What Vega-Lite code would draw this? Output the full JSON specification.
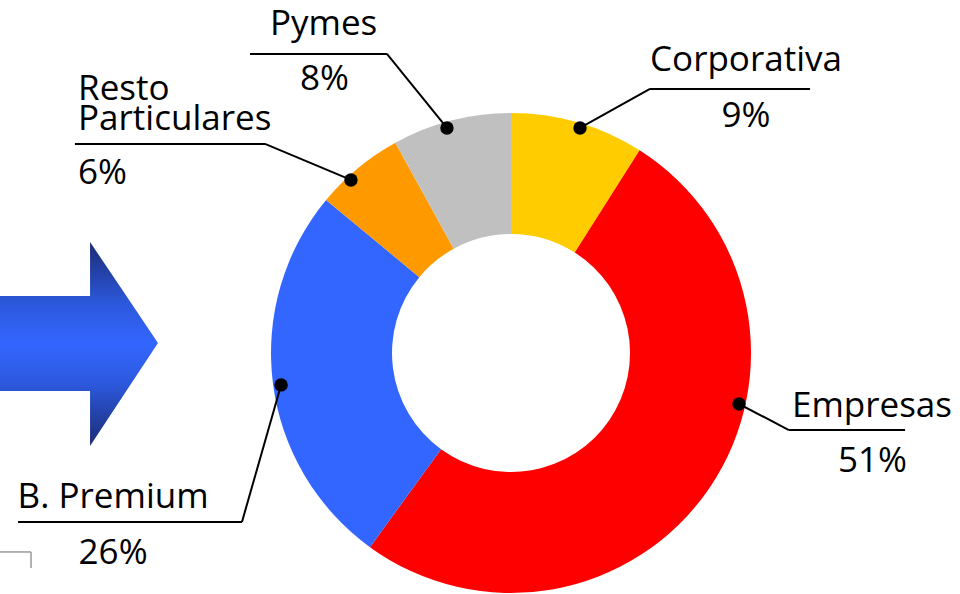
{
  "$schema": "https://vega.github.io/schema/vega-lite/v6.json",
  "width": 960,
  "height": 594,
  "autosize": {"type": "none"},
  "padding": 0,
  "background": "white",
  "config": {"view": {"stroke": null}, "font": "Open Sans"},
  "datasets": {
    "segmentos": [
      {"segmento": "Corporativa", "pct": 9, "orden": 1},
      {"segmento": "Empresas", "pct": 51, "orden": 2},
      {"segmento": "B. Premium", "pct": 26, "orden": 3},
      {"segmento": "Resto Particulares", "pct": 6, "orden": 4},
      {"segmento": "Pymes", "pct": 8, "orden": 5}
    ],
    "guias": [
      {"segmento": "Corporativa", "u1": 28.75, "v1": 93.75, "u2": 57.9, "v2": 110, "u3": 124.6},
      {"segmento": "Empresas", "u1": 95, "v1": -21.25, "u2": 115.8, "v2": -32.1, "u3": 164.2},
      {"segmento": "B. Premium", "u1": -95.8, "v1": -13.3, "u2": -112.1, "v2": -70.4, "u3": -205.4},
      {"segmento": "Resto Particulares", "u1": -66.7, "v1": 72.1, "u2": -102.5, "v2": 87.1, "u3": -181.7},
      {"segmento": "Pymes", "u1": -26.7, "v1": 93.75, "u2": -51.7, "v2": 124.6, "u3": -108.75}
    ],
    "textos": [
      {"segmento": "Corporativa", "texto": "Corporativa", "u": 97.9, "v": 117.5},
      {"segmento": "Corporativa", "texto": "9%", "u": 97.9, "v": 94.2},
      {"segmento": "Empresas", "texto": "Empresas", "u": 150.4, "v": -26.7},
      {"segmento": "Empresas", "texto": "51%", "u": 150.6, "v": -49.6},
      {"segmento": "B. Premium", "texto": "B. Premium", "u": -165.8, "v": -64.6},
      {"segmento": "B. Premium", "texto": "26%", "u": -165.8, "v": -87.9},
      {"segmento": "Resto Particulares", "texto": "Resto", "u": -180.4, "v": 105.4},
      {"segmento": "Resto Particulares", "texto": "Particulares", "u": -180.4, "v": 92.9},
      {"segmento": "Resto Particulares", "texto": "6%", "u": -180.4, "v": 70.4},
      {"segmento": "Pymes", "texto": "Pymes", "u": -78.1, "v": 132.5},
      {"segmento": "Pymes", "texto": "8%", "u": -77.7, "v": 109.6}
    ],
    "flecha": [
      {"v": 46.25, "u1": -175.4, "u2": -175.4},
      {"v": 23.76, "u1": -175.4, "u2": -160.25},
      {"v": 23.74, "u1": -212.92, "u2": -160.25},
      {"v": 4.17, "u1": -212.92, "u2": -147.1},
      {"v": -15.82, "u1": -212.92, "u2": -160.3},
      {"v": -15.84, "u1": -175.4, "u2": -160.3},
      {"v": -38.75, "u1": -175.4, "u2": -175.4}
    ],
    "esquina": [
      {"u1": -212.92, "v1": -82.9, "u2": -200, "v2": -82.9},
      {"u1": -200, "v1": -82.9, "u2": -200, "v2": -89.6}
    ]
  },
  "layer": [
    {
      "data": {"name": "flecha"},
      "mark": {
        "type": "area",
        "orient": "horizontal",
        "color": {
          "gradient": "linear",
          "x1": 0, "y1": 0, "x2": 0, "y2": 1,
          "stops": [
            {"offset": 0, "color": "#1b2c74"},
            {"offset": 0.3, "color": "#2c58dc"},
            {"offset": 0.5, "color": "#3366ff"},
            {"offset": 0.7, "color": "#2c58dc"},
            {"offset": 1, "color": "#1b2c74"}
          ]
        }
      },
      "encoding": {
        "y": {"field": "v", "type": "quantitative", "scale": {"domain": [-100.42, 147.08], "nice": false, "zero": false}, "axis": null},
        "x": {"field": "u1", "type": "quantitative", "stack": null, "scale": {"domain": [-212.92, 187.08], "nice": false, "zero": false}, "axis": null},
        "x2": {"field": "u2"}
      }
    },
    {
      "data": {"name": "segmentos"},
      "mark": {"type": "arc", "outerRadius": 240, "innerRadius": 119},
      "encoding": {
        "theta": {"field": "pct", "type": "quantitative", "stack": true},
        "order": {"field": "orden", "type": "quantitative"},
        "color": {
          "field": "segmento", "type": "nominal",
          "scale": {
            "domain": ["Corporativa", "Empresas", "B. Premium", "Resto Particulares", "Pymes"],
            "range": ["#ffcc00", "#ff0000", "#3366ff", "#ff9900", "#c0c0c0"]
          },
          "legend": null
        },
        "x": {"datum": 0, "type": "quantitative", "scale": {"domain": [-212.92, 187.08], "nice": false, "zero": false}, "axis": null},
        "y": {"datum": 0, "type": "quantitative", "scale": {"domain": [-100.42, 147.08], "nice": false, "zero": false}, "axis": null}
      }
    },
    {
      "data": {"name": "esquina"},
      "mark": {"type": "rule", "color": "#9a9a9a", "strokeWidth": 1.5},
      "encoding": {
        "x": {"field": "u1", "type": "quantitative", "scale": {"domain": [-212.92, 187.08], "nice": false, "zero": false}, "axis": null},
        "y": {"field": "v1", "type": "quantitative", "scale": {"domain": [-100.42, 147.08], "nice": false, "zero": false}, "axis": null},
        "x2": {"field": "u2"},
        "y2": {"field": "v2"}
      }
    },
    {
      "data": {"name": "guias"},
      "mark": {"type": "rule", "color": "black", "strokeWidth": 2},
      "encoding": {
        "x": {"field": "u1", "type": "quantitative", "scale": {"domain": [-212.92, 187.08], "nice": false, "zero": false}, "axis": null},
        "y": {"field": "v1", "type": "quantitative", "scale": {"domain": [-100.42, 147.08], "nice": false, "zero": false}, "axis": null},
        "x2": {"field": "u2"},
        "y2": {"field": "v2"}
      }
    },
    {
      "data": {"name": "guias"},
      "mark": {"type": "rule", "color": "black", "strokeWidth": 2},
      "encoding": {
        "x": {"field": "u2", "type": "quantitative", "scale": {"domain": [-212.92, 187.08], "nice": false, "zero": false}, "axis": null},
        "y": {"field": "v2", "type": "quantitative", "scale": {"domain": [-100.42, 147.08], "nice": false, "zero": false}, "axis": null},
        "x2": {"field": "u3"}
      }
    },
    {
      "data": {"name": "guias"},
      "mark": {"type": "point", "filled": true, "color": "black", "opacity": 1, "size": 180},
      "encoding": {
        "x": {"field": "u1", "type": "quantitative", "scale": {"domain": [-212.92, 187.08], "nice": false, "zero": false}, "axis": null},
        "y": {"field": "v1", "type": "quantitative", "scale": {"domain": [-100.42, 147.08], "nice": false, "zero": false}, "axis": null}
      }
    },
    {
      "data": {"name": "textos"},
      "transform": [{"filter": "datum.segmento != 'Resto Particulares'"}],
      "mark": {"type": "text", "align": "center", "baseline": "alphabetic", "fontSize": 35, "font": "Open Sans", "color": "black"},
      "encoding": {
        "text": {"field": "texto"},
        "x": {"field": "u", "type": "quantitative", "scale": {"domain": [-212.92, 187.08], "nice": false, "zero": false}, "axis": null},
        "y": {"field": "v", "type": "quantitative", "scale": {"domain": [-100.42, 147.08], "nice": false, "zero": false}, "axis": null}
      }
    },
    {
      "data": {"name": "textos"},
      "transform": [{"filter": "datum.segmento == 'Resto Particulares'"}],
      "mark": {"type": "text", "align": "left", "baseline": "alphabetic", "fontSize": 35, "font": "Open Sans", "color": "black"},
      "encoding": {
        "text": {"field": "texto"},
        "x": {"field": "u", "type": "quantitative", "scale": {"domain": [-212.92, 187.08], "nice": false, "zero": false}, "axis": null},
        "y": {"field": "v", "type": "quantitative", "scale": {"domain": [-100.42, 147.08], "nice": false, "zero": false}, "axis": null}
      }
    }
  ]
}
